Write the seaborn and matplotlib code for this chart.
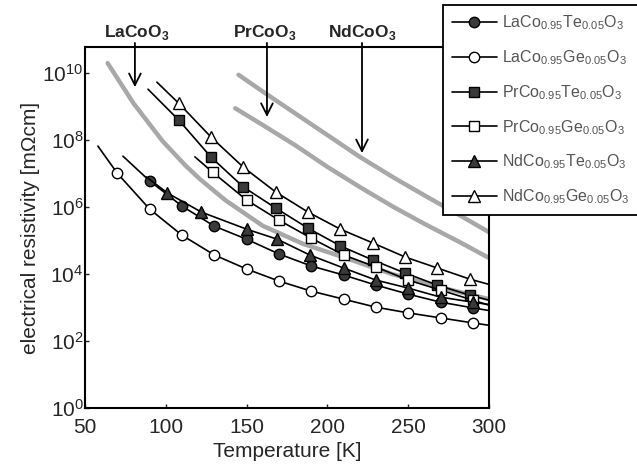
import numpy as np
import pandas as pd
import matplotlib
matplotlib.use("Agg")
import matplotlib.pyplot as plt
import seaborn as sns

# values: temperature [K] and log10(resistivity [mOhm cm])
# first and last entries are the line ends, the rest carry markers
T_la_te = [73.5, 90, 110, 130, 150, 170, 190, 210, 230, 250, 270, 290, 300]
lg_la_te = [7.52, 6.78, 6.03, 5.43, 5.04, 4.60, 4.24, 3.97, 3.67, 3.40, 3.16, 2.99, 2.91]

T_la_ge = [58, 70, 90, 110, 130, 150, 170, 190, 210, 230, 250, 270, 290, 300]
lg_la_ge = [7.82, 7.01, 5.94, 5.16, 4.57, 4.15, 3.79, 3.49, 3.25, 3.01, 2.84, 2.69, 2.54, 2.47]

T_pr_te = [89, 108, 128, 148, 168, 188, 208, 228, 248, 268, 288, 300]
lg_pr_te = [9.52, 8.60, 7.49, 6.60, 5.97, 5.37, 4.84, 4.42, 4.03, 3.67, 3.37, 3.22]

T_pr_ge = [118, 129, 150, 170, 190, 210, 230, 250, 270, 290, 300]
lg_pr_ge = [7.50, 7.04, 6.21, 5.61, 5.07, 4.57, 4.21, 3.82, 3.52, 3.22, 3.07]

T_nd_te = [88, 101, 122, 150, 169, 189, 210, 230, 250, 270, 290, 300]
lg_nd_te = [6.90, 6.42, 5.85, 5.34, 5.04, 4.57, 4.18, 3.82, 3.58, 3.31, 3.16, 3.09]

T_nd_ge = [94.5, 108, 128, 148, 168, 188, 208, 228, 248, 268, 288, 300]
lg_nd_ge = [9.73, 9.10, 8.09, 7.19, 6.45, 5.85, 5.34, 4.93, 4.51, 4.18, 3.85, 3.69]

# undoped reference curves (grey)
T_la = [64, 80, 98, 112, 121, 137, 160, 185, 210, 240, 270, 300]
lg_la = [10.30, 9.10, 7.97, 7.25, 6.84, 6.20, 5.44, 4.90, 4.50, 4.00, 3.60, 3.25]
T_pr = [143, 160, 180, 200, 220, 241, 260, 282, 300]
lg_pr = [8.95, 8.45, 7.85, 7.20, 6.60, 6.00, 5.50, 4.95, 4.48]
T_nd = [145, 160, 180, 200, 220, 241, 260, 282, 300]
lg_nd = [9.95, 9.45, 8.80, 8.15, 7.50, 6.88, 6.35, 5.75, 5.25]

series = [
    (r"LaCo$_{0.95}$Te$_{0.05}$O$_3$", T_la_te, lg_la_te, "o", True),
    (r"LaCo$_{0.95}$Ge$_{0.05}$O$_3$", T_la_ge, lg_la_ge, "o", False),
    (r"PrCo$_{0.95}$Te$_{0.05}$O$_3$", T_pr_te, lg_pr_te, "s", True),
    (r"PrCo$_{0.95}$Ge$_{0.05}$O$_3$", T_pr_ge, lg_pr_ge, "s", False),
    (r"NdCo$_{0.95}$Te$_{0.05}$O$_3$", T_nd_te, lg_nd_te, "^", True),
    (r"NdCo$_{0.95}$Ge$_{0.05}$O$_3$", T_nd_ge, lg_nd_ge, "^", False),
]
refs = [("LaCoO$_\\mathbf{3}$", T_la, lg_la, 82, 80.9, 9.58),
        ("PrCoO$_\\mathbf{3}$", T_pr, lg_pr, 161, 162.6, 8.69),
        ("NdCoO$_\\mathbf{3}$", T_nd, lg_nd, 221.4, 221.4, 7.61)]

sns.set_theme(style="ticks")
plt.rcParams["font.family"] = ["Liberation Sans", "DejaVu Sans"]
plt.rcParams["mathtext.fontset"] = "custom"
plt.rcParams["mathtext.rm"] = "Liberation Sans"
plt.rcParams["mathtext.bf"] = "Liberation Sans:bold"

fig = plt.figure(figsize=(6.37, 4.71), dpi=100)
ax = fig.add_axes([0.1334, 0.1338, 0.6343, 0.7664])

for name, T, lg, _, _, _ in refs:
    d = pd.DataFrame({"T": T, "rho": np.power(10.0, lg)})
    sns.lineplot(data=d, x="T", y="rho", color="#a8a8a8", lw=3.2, ax=ax,
                 sort=False, legend=False)

for label, T, lg, mk, filled in series:
    d = pd.DataFrame({"T": T, "rho": np.power(10.0, lg)})
    sns.lineplot(data=d, x="T", y="rho", color="black", lw=1.2, ax=ax,
                 sort=False, marker=mk, markersize=7.5 if mk != "^" else 8.5,
                 markerfacecolor="#3a3a3a" if filled else "white",
                 markeredgecolor="black", markeredgewidth=1.0,
                 markevery=slice(1, -1), label=label)

ax.set_yscale("log")
ax.set_xlim(50, 300)
ax.set_ylim(1, 10 ** 10.78)
ax.set_xticks([50, 100, 150, 200, 250, 300])
ax.set_yticks([10.0 ** k for k in range(0, 11, 2)])
ax.minorticks_off()
ax.tick_params(direction="in", length=3, width=1, labelsize=15, pad=7)
ax.tick_params(axis="y", pad=1)
for s in ax.spines.values():
    s.set_linewidth(1.5)
    s.set_color("black")

ax.set_xlabel("Temperature [K]", fontsize=15, labelpad=4)
ax.set_ylabel("electrical resistivity [m\u03a9cm]", fontsize=15, labelpad=2)

for name, T, lg, tx, ax_x, tip in refs:
    ax.annotate("", xy=(ax_x, 10 ** tip), xytext=(ax_x, 10 ** 10.9),
                arrowprops=dict(arrowstyle="->,head_length=0.7,head_width=0.35",
                                color="black", lw=1.3, shrinkA=0, shrinkB=0),
                annotation_clip=False)
    ax.text(tx, 10 ** 11.2, name, ha="center", va="center", fontsize=12.5,
            fontweight="bold", clip_on=False)

leg = ax.legend(loc="upper left", bbox_to_anchor=(443 / 637, 1 - 5 / 471),
                bbox_transform=fig.transFigure, fontsize=11.5, frameon=True,
                fancybox=False, edgecolor="black", framealpha=1,
                handlelength=2.8, labelspacing=1.0, borderpad=0.55,
                handletextpad=0.35, borderaxespad=0)
leg.get_frame().set_linewidth(1.3)
for t in leg.get_texts():
    t.set_color("#555555")

fig.savefig("out.png", dpi=100)
